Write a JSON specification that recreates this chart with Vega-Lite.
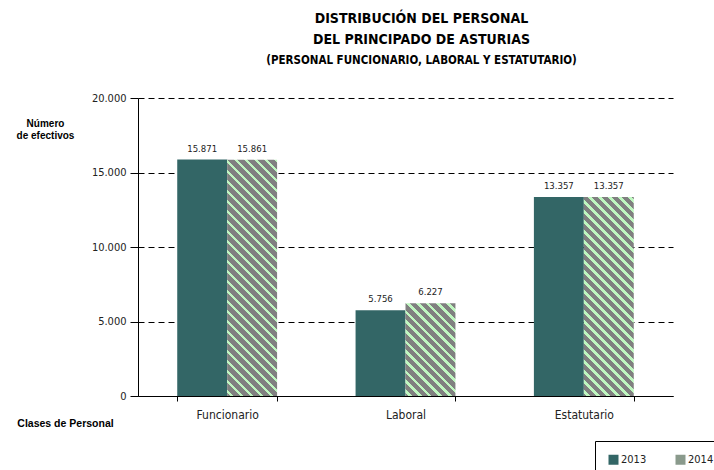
{
  "$schema": "https://vega.github.io/schema/vega-lite/v6.json",
  "width": 535,
  "height": 298,
  "autosize": {"type": "none"},
  "padding": {"left": 138, "top": 98, "right": 41, "bottom": 74},
  "config": {
    "locale": {"number": {"decimal": ",", "thousands": ".", "grouping": [3], "currency": ["", " €"]}},
    "view": {"stroke": null},
    "font": "DejaVu Sans Condensed, Liberation Sans, sans-serif"
  },
  "title": {
    "text": ["DISTRIBUCIÓN DEL PERSONAL", "DEL PRINCIPADO DE ASTURIAS"],
    "subtitle": "(PERSONAL FUNCIONARIO, LABORAL Y ESTATUTARIO)",
    "anchor": "middle",
    "dx": 16,
    "offset": 26,
    "font": "DejaVu Sans Condensed, Liberation Sans, sans-serif",
    "fontSize": 14,
    "fontWeight": "bold",
    "lineHeight": 21,
    "color": "#000",
    "subtitleFont": "DejaVu Sans Condensed, Liberation Sans, sans-serif",
    "subtitleFontSize": 11.5,
    "subtitleFontWeight": "bold",
    "subtitleColor": "#000",
    "subtitlePadding": 8
  },
  "data": {
    "values": [
      {"cat": "Funcionario", "year": "2013", "value": 15871},
      {"cat": "Funcionario", "year": "2014", "value": 15861},
      {"cat": "Laboral", "year": "2013", "value": 5756},
      {"cat": "Laboral", "year": "2014", "value": 6227},
      {"cat": "Estatutario", "year": "2013", "value": 13357},
      {"cat": "Estatutario", "year": "2014", "value": 13357}
    ]
  },
  "encoding": {
    "x": {
      "field": "cat", "type": "nominal", "sort": null,
      "scale": {"paddingInner": 0.44, "paddingOuter": 0.22},
      "axis": {
        "title": "Clases de Personal",
        "titleFont": "Liberation Sans", "titleFontSize": 10.5, "titleFontWeight": "bold", "titleColor": "#000",
        "titleX": -73, "titleY": 27, "titleAlign": "center", "titleBaseline": "middle", "titleAnchor": null,
        "labelAngle": 0, "labelFontSize": 12, "labelColor": "#222", "labelPadding": 8,
        "tickBand": "extent", "tickSize": 5, "tickColor": "#000", "domainColor": "#000",
        "grid": false
      }
    },
    "xOffset": {"field": "year", "type": "nominal"},
    "y": {
      "field": "value", "type": "quantitative",
      "scale": {"domain": [0, 20000], "nice": false},
      "axis": {
        "title": ["Número", "de efectivos"],
        "titleFont": "Liberation Sans", "titleFontSize": 10, "titleFontWeight": "bold", "titleColor": "#000",
        "titleAngle": 0, "titleX": -93, "titleY": 20, "titleAlign": "center", "titleBaseline": "top", "titleLineHeight": 12, "titleAnchor": null,
        "values": [0, 5000, 10000, 15000, 20000], "format": ",d",
        "labelFontSize": 11, "labelColor": "#222", "labelPadding": 4,
        "tickSize": 8, "tickColor": "#000", "domainColor": "#000",
        "grid": true, "gridColor": "#000", "gridDash": [6, 4], "gridWidth": 1
      }
    }
  },
  "layer": [
    {
      "mark": {"type": "bar"},
      "encoding": {
        "fill": {
          "field": "year", "type": "nominal",
          "scale": {"domain": ["2013", "2014"], "range": ["#336666", "#8a9a8c"]},
          "condition": [
            {"test": "datum.year === '2014' && datum.cat === 'Funcionario'",
             "value": {"gradient": "linear", "x1": 0, "y1": 1, "x2": 0.25673, "y2": -0.21517, "stops": [
{"offset":0.0100,"color":"#808080"},{"offset":0.0100,"color":"#bff7c0"},{"offset":0.0217,"color":"#bff7c0"},{"offset":0.0217,"color":"#808080"},
{"offset":0.0433,"color":"#808080"},{"offset":0.0433,"color":"#bff7c0"},{"offset":0.0550,"color":"#bff7c0"},{"offset":0.0550,"color":"#808080"},
{"offset":0.0767,"color":"#808080"},{"offset":0.0767,"color":"#bff7c0"},{"offset":0.0883,"color":"#bff7c0"},{"offset":0.0883,"color":"#808080"},
{"offset":0.1100,"color":"#808080"},{"offset":0.1100,"color":"#bff7c0"},{"offset":0.1217,"color":"#bff7c0"},{"offset":0.1217,"color":"#808080"},
{"offset":0.1433,"color":"#808080"},{"offset":0.1433,"color":"#bff7c0"},{"offset":0.1550,"color":"#bff7c0"},{"offset":0.1550,"color":"#808080"},
{"offset":0.1767,"color":"#808080"},{"offset":0.1767,"color":"#bff7c0"},{"offset":0.1883,"color":"#bff7c0"},{"offset":0.1883,"color":"#808080"},
{"offset":0.2100,"color":"#808080"},{"offset":0.2100,"color":"#bff7c0"},{"offset":0.2217,"color":"#bff7c0"},{"offset":0.2217,"color":"#808080"},
{"offset":0.2433,"color":"#808080"},{"offset":0.2433,"color":"#bff7c0"},{"offset":0.2550,"color":"#bff7c0"},{"offset":0.2550,"color":"#808080"},
{"offset":0.2767,"color":"#808080"},{"offset":0.2767,"color":"#bff7c0"},{"offset":0.2883,"color":"#bff7c0"},{"offset":0.2883,"color":"#808080"},
{"offset":0.3100,"color":"#808080"},{"offset":0.3100,"color":"#bff7c0"},{"offset":0.3217,"color":"#bff7c0"},{"offset":0.3217,"color":"#808080"},
{"offset":0.3433,"color":"#808080"},{"offset":0.3433,"color":"#bff7c0"},{"offset":0.3550,"color":"#bff7c0"},{"offset":0.3550,"color":"#808080"},
{"offset":0.3767,"color":"#808080"},{"offset":0.3767,"color":"#bff7c0"},{"offset":0.3883,"color":"#bff7c0"},{"offset":0.3883,"color":"#808080"},
{"offset":0.4100,"color":"#808080"},{"offset":0.4100,"color":"#bff7c0"},{"offset":0.4217,"color":"#bff7c0"},{"offset":0.4217,"color":"#808080"},
{"offset":0.4433,"color":"#808080"},{"offset":0.4433,"color":"#bff7c0"},{"offset":0.4550,"color":"#bff7c0"},{"offset":0.4550,"color":"#808080"},
{"offset":0.4767,"color":"#808080"},{"offset":0.4767,"color":"#bff7c0"},{"offset":0.4883,"color":"#bff7c0"},{"offset":0.4883,"color":"#808080"},
{"offset":0.5100,"color":"#808080"},{"offset":0.5100,"color":"#bff7c0"},{"offset":0.5217,"color":"#bff7c0"},{"offset":0.5217,"color":"#808080"},
{"offset":0.5433,"color":"#808080"},{"offset":0.5433,"color":"#bff7c0"},{"offset":0.5550,"color":"#bff7c0"},{"offset":0.5550,"color":"#808080"},
{"offset":0.5767,"color":"#808080"},{"offset":0.5767,"color":"#bff7c0"},{"offset":0.5883,"color":"#bff7c0"},{"offset":0.5883,"color":"#808080"},
{"offset":0.6100,"color":"#808080"},{"offset":0.6100,"color":"#bff7c0"},{"offset":0.6217,"color":"#bff7c0"},{"offset":0.6217,"color":"#808080"},
{"offset":0.6433,"color":"#808080"},{"offset":0.6433,"color":"#bff7c0"},{"offset":0.6550,"color":"#bff7c0"},{"offset":0.6550,"color":"#808080"},
{"offset":0.6767,"color":"#808080"},{"offset":0.6767,"color":"#bff7c0"},{"offset":0.6883,"color":"#bff7c0"},{"offset":0.6883,"color":"#808080"},
{"offset":0.7100,"color":"#808080"},{"offset":0.7100,"color":"#bff7c0"},{"offset":0.7217,"color":"#bff7c0"},{"offset":0.7217,"color":"#808080"},
{"offset":0.7433,"color":"#808080"},{"offset":0.7433,"color":"#bff7c0"},{"offset":0.7550,"color":"#bff7c0"},{"offset":0.7550,"color":"#808080"},
{"offset":0.7767,"color":"#808080"},{"offset":0.7767,"color":"#bff7c0"},{"offset":0.7883,"color":"#bff7c0"},{"offset":0.7883,"color":"#808080"},
{"offset":0.8100,"color":"#808080"},{"offset":0.8100,"color":"#bff7c0"},{"offset":0.8217,"color":"#bff7c0"},{"offset":0.8217,"color":"#808080"},
{"offset":0.8433,"color":"#808080"},{"offset":0.8433,"color":"#bff7c0"},{"offset":0.8550,"color":"#bff7c0"},{"offset":0.8550,"color":"#808080"},
{"offset":0.8767,"color":"#808080"},{"offset":0.8767,"color":"#bff7c0"},{"offset":0.8883,"color":"#bff7c0"},{"offset":0.8883,"color":"#808080"},
{"offset":0.9100,"color":"#808080"},{"offset":0.9100,"color":"#bff7c0"},{"offset":0.9217,"color":"#bff7c0"},{"offset":0.9217,"color":"#808080"},
{"offset":0.9433,"color":"#808080"},{"offset":0.9433,"color":"#bff7c0"},{"offset":0.9550,"color":"#bff7c0"},{"offset":0.9550,"color":"#808080"}
             ]}},
            {"test": "datum.year === '2014' && datum.cat === 'Laboral'",
             "value": {"gradient": "linear", "x1": 0, "y1": 1, "x2": 1.34933, "y2": -1.50732, "stops": [
{"offset":0.0100,"color":"#808080"},{"offset":0.0100,"color":"#bff7c0"},{"offset":0.0217,"color":"#bff7c0"},{"offset":0.0217,"color":"#808080"},
{"offset":0.0433,"color":"#808080"},{"offset":0.0433,"color":"#bff7c0"},{"offset":0.0550,"color":"#bff7c0"},{"offset":0.0550,"color":"#808080"},
{"offset":0.0767,"color":"#808080"},{"offset":0.0767,"color":"#bff7c0"},{"offset":0.0883,"color":"#bff7c0"},{"offset":0.0883,"color":"#808080"},
{"offset":0.1100,"color":"#808080"},{"offset":0.1100,"color":"#bff7c0"},{"offset":0.1217,"color":"#bff7c0"},{"offset":0.1217,"color":"#808080"},
{"offset":0.1433,"color":"#808080"},{"offset":0.1433,"color":"#bff7c0"},{"offset":0.1550,"color":"#bff7c0"},{"offset":0.1550,"color":"#808080"},
{"offset":0.1767,"color":"#808080"},{"offset":0.1767,"color":"#bff7c0"},{"offset":0.1883,"color":"#bff7c0"},{"offset":0.1883,"color":"#808080"},
{"offset":0.2100,"color":"#808080"},{"offset":0.2100,"color":"#bff7c0"},{"offset":0.2217,"color":"#bff7c0"},{"offset":0.2217,"color":"#808080"},
{"offset":0.2433,"color":"#808080"},{"offset":0.2433,"color":"#bff7c0"},{"offset":0.2550,"color":"#bff7c0"},{"offset":0.2550,"color":"#808080"},
{"offset":0.2767,"color":"#808080"},{"offset":0.2767,"color":"#bff7c0"},{"offset":0.2883,"color":"#bff7c0"},{"offset":0.2883,"color":"#808080"},
{"offset":0.3100,"color":"#808080"},{"offset":0.3100,"color":"#bff7c0"},{"offset":0.3217,"color":"#bff7c0"},{"offset":0.3217,"color":"#808080"},
{"offset":0.3433,"color":"#808080"},{"offset":0.3433,"color":"#bff7c0"},{"offset":0.3550,"color":"#bff7c0"},{"offset":0.3550,"color":"#808080"},
{"offset":0.3767,"color":"#808080"},{"offset":0.3767,"color":"#bff7c0"},{"offset":0.3883,"color":"#bff7c0"},{"offset":0.3883,"color":"#808080"},
{"offset":0.4100,"color":"#808080"},{"offset":0.4100,"color":"#bff7c0"},{"offset":0.4217,"color":"#bff7c0"},{"offset":0.4217,"color":"#808080"},
{"offset":0.4433,"color":"#808080"},{"offset":0.4433,"color":"#bff7c0"},{"offset":0.4550,"color":"#bff7c0"},{"offset":0.4550,"color":"#808080"},
{"offset":0.4767,"color":"#808080"},{"offset":0.4767,"color":"#bff7c0"},{"offset":0.4883,"color":"#bff7c0"},{"offset":0.4883,"color":"#808080"}
             ]}},
            {"test": "datum.year === '2014' && datum.cat === 'Estatutario'",
             "value": {"gradient": "linear", "x1": 0, "y1": 1, "x2": 0.35578, "y2": -0.41813, "stops": [
{"offset":0.0100,"color":"#808080"},{"offset":0.0100,"color":"#bff7c0"},{"offset":0.0217,"color":"#bff7c0"},{"offset":0.0217,"color":"#808080"},
{"offset":0.0433,"color":"#808080"},{"offset":0.0433,"color":"#bff7c0"},{"offset":0.0550,"color":"#bff7c0"},{"offset":0.0550,"color":"#808080"},
{"offset":0.0767,"color":"#808080"},{"offset":0.0767,"color":"#bff7c0"},{"offset":0.0883,"color":"#bff7c0"},{"offset":0.0883,"color":"#808080"},
{"offset":0.1100,"color":"#808080"},{"offset":0.1100,"color":"#bff7c0"},{"offset":0.1217,"color":"#bff7c0"},{"offset":0.1217,"color":"#808080"},
{"offset":0.1433,"color":"#808080"},{"offset":0.1433,"color":"#bff7c0"},{"offset":0.1550,"color":"#bff7c0"},{"offset":0.1550,"color":"#808080"},
{"offset":0.1767,"color":"#808080"},{"offset":0.1767,"color":"#bff7c0"},{"offset":0.1883,"color":"#bff7c0"},{"offset":0.1883,"color":"#808080"},
{"offset":0.2100,"color":"#808080"},{"offset":0.2100,"color":"#bff7c0"},{"offset":0.2217,"color":"#bff7c0"},{"offset":0.2217,"color":"#808080"},
{"offset":0.2433,"color":"#808080"},{"offset":0.2433,"color":"#bff7c0"},{"offset":0.2550,"color":"#bff7c0"},{"offset":0.2550,"color":"#808080"},
{"offset":0.2767,"color":"#808080"},{"offset":0.2767,"color":"#bff7c0"},{"offset":0.2883,"color":"#bff7c0"},{"offset":0.2883,"color":"#808080"},
{"offset":0.3100,"color":"#808080"},{"offset":0.3100,"color":"#bff7c0"},{"offset":0.3217,"color":"#bff7c0"},{"offset":0.3217,"color":"#808080"},
{"offset":0.3433,"color":"#808080"},{"offset":0.3433,"color":"#bff7c0"},{"offset":0.3550,"color":"#bff7c0"},{"offset":0.3550,"color":"#808080"},
{"offset":0.3767,"color":"#808080"},{"offset":0.3767,"color":"#bff7c0"},{"offset":0.3883,"color":"#bff7c0"},{"offset":0.3883,"color":"#808080"},
{"offset":0.4100,"color":"#808080"},{"offset":0.4100,"color":"#bff7c0"},{"offset":0.4217,"color":"#bff7c0"},{"offset":0.4217,"color":"#808080"},
{"offset":0.4433,"color":"#808080"},{"offset":0.4433,"color":"#bff7c0"},{"offset":0.4550,"color":"#bff7c0"},{"offset":0.4550,"color":"#808080"},
{"offset":0.4767,"color":"#808080"},{"offset":0.4767,"color":"#bff7c0"},{"offset":0.4883,"color":"#bff7c0"},{"offset":0.4883,"color":"#808080"},
{"offset":0.5100,"color":"#808080"},{"offset":0.5100,"color":"#bff7c0"},{"offset":0.5217,"color":"#bff7c0"},{"offset":0.5217,"color":"#808080"},
{"offset":0.5433,"color":"#808080"},{"offset":0.5433,"color":"#bff7c0"},{"offset":0.5550,"color":"#bff7c0"},{"offset":0.5550,"color":"#808080"},
{"offset":0.5767,"color":"#808080"},{"offset":0.5767,"color":"#bff7c0"},{"offset":0.5883,"color":"#bff7c0"},{"offset":0.5883,"color":"#808080"},
{"offset":0.6100,"color":"#808080"},{"offset":0.6100,"color":"#bff7c0"},{"offset":0.6217,"color":"#bff7c0"},{"offset":0.6217,"color":"#808080"},
{"offset":0.6433,"color":"#808080"},{"offset":0.6433,"color":"#bff7c0"},{"offset":0.6550,"color":"#bff7c0"},{"offset":0.6550,"color":"#808080"},
{"offset":0.6767,"color":"#808080"},{"offset":0.6767,"color":"#bff7c0"},{"offset":0.6883,"color":"#bff7c0"},{"offset":0.6883,"color":"#808080"},
{"offset":0.7100,"color":"#808080"},{"offset":0.7100,"color":"#bff7c0"},{"offset":0.7217,"color":"#bff7c0"},{"offset":0.7217,"color":"#808080"},
{"offset":0.7433,"color":"#808080"},{"offset":0.7433,"color":"#bff7c0"},{"offset":0.7550,"color":"#bff7c0"},{"offset":0.7550,"color":"#808080"},
{"offset":0.7767,"color":"#808080"},{"offset":0.7767,"color":"#bff7c0"},{"offset":0.7883,"color":"#bff7c0"},{"offset":0.7883,"color":"#808080"},
{"offset":0.8100,"color":"#808080"},{"offset":0.8100,"color":"#bff7c0"},{"offset":0.8217,"color":"#bff7c0"},{"offset":0.8217,"color":"#808080"}
             ]}}
          ],
          "legend": {
            "title": null,
            "orient": "none",
            "legendX": 457,
            "legendY": 343,
            "direction": "horizontal",
            "strokeColor": "#000",
            "padding": 13,
            "symbolType": "square",
            "symbolSize": 100,
            "symbolStrokeWidth": 0,
            "labelFont": "DejaVu Sans Condensed, Liberation Sans, sans-serif",
            "labelFontSize": 11,
            "labelColor": "#222",
            "labelOffset": 2,
            "columnPadding": 28
          }
        }
      }
    },
    {
      "mark": {"type": "text", "baseline": "alphabetic", "dy": -8, "fontSize": 9.5, "color": "#222"},
      "encoding": {
        "text": {"field": "value", "type": "quantitative", "format": ",d"}
      }
    }
  ]
}
